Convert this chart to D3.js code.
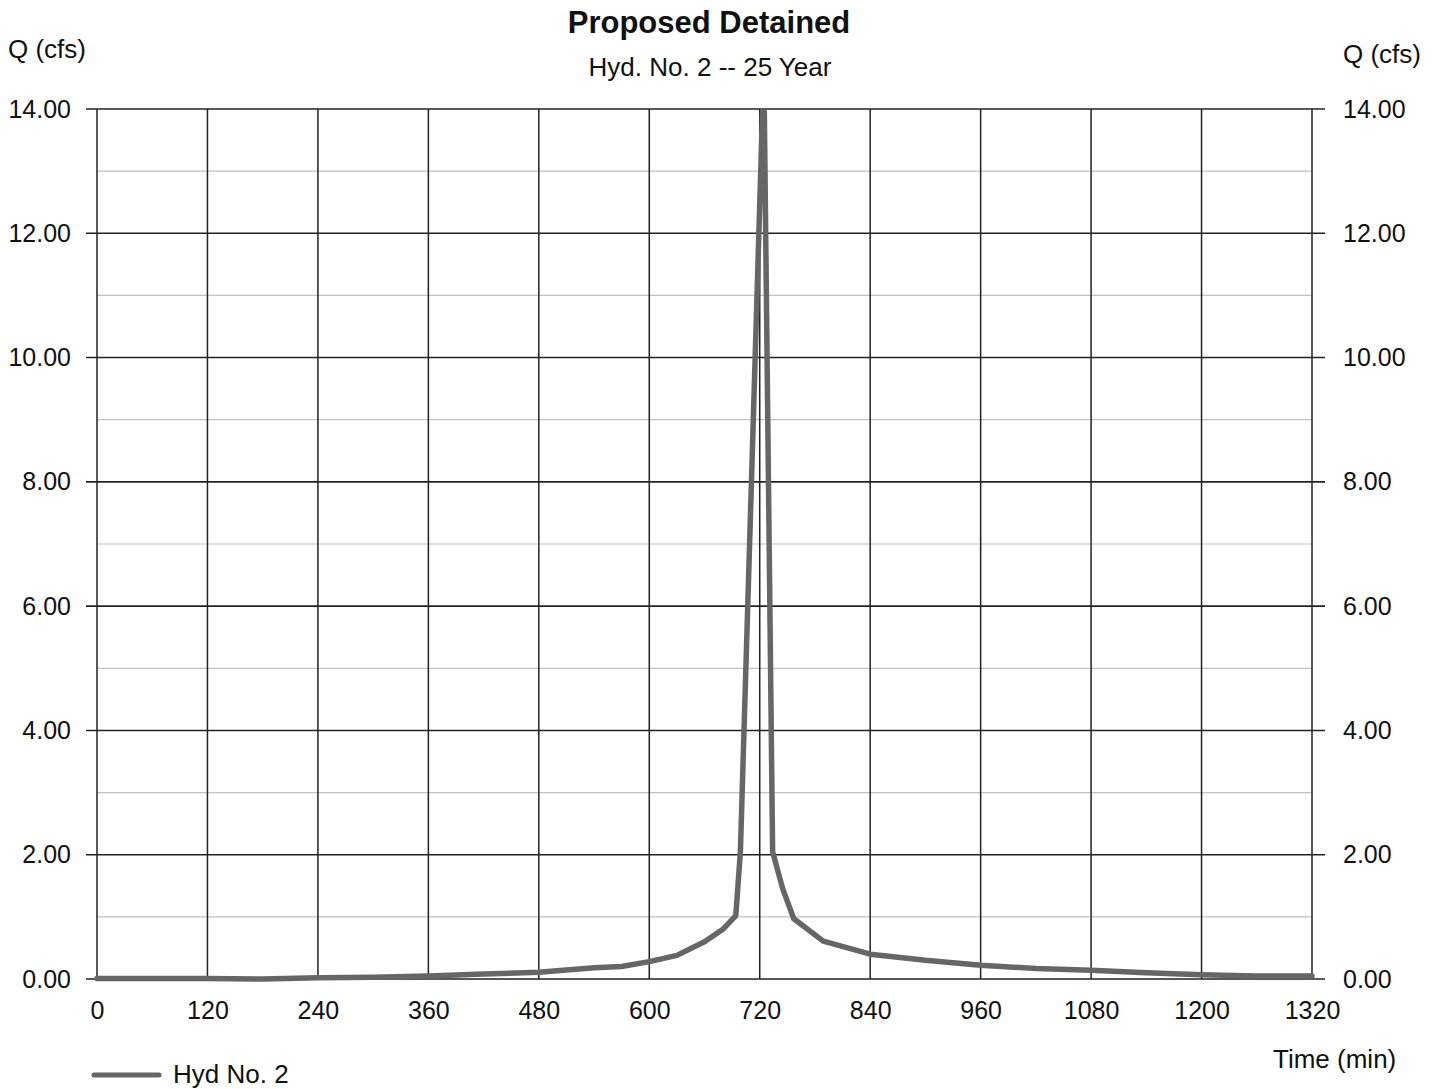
<!DOCTYPE html>
<html>
    <head>
        <title>Proposed Detained</title>
        <script src="https://d3js.org/d3.v7.min.js"></script>
        <style>
            * {
                margin: 0;
                padding: 0;
            }
            body {
                background: #fff;
                overflow: hidden;
            }
            svg {
                display: block;
                font-family: 'Liberation Sans', Arial, sans-serif;
            }
            .tick text {
                font-size: 25px;
                fill: #111;
            }
        </style>
    </head>
    <body>
        <script>
            // hydrograph (time in min, Q in cfs)
            const times = [0, 60, 120, 180, 240, 300, 360, 420, 480, 540, 570, 600, 630, 660, 680, 694, 699, 711, 723, 725, 734, 745, 757, 789, 840, 900, 960, 1020, 1080, 1140, 1200, 1260, 1320];
            const flows = [0.01, 0.01, 0.01, 0.0, 0.02, 0.03, 0.05, 0.08, 0.11, 0.18, 0.2, 0.28, 0.38, 0.6, 0.8, 1.02, 2.05, 8.0, 13.95, 13.95, 2.05, 1.45, 0.97, 0.61, 0.4, 0.3, 0.22, 0.17, 0.14, 0.1, 0.07, 0.05, 0.05];

            const xTicks = [0, 120, 240, 360, 480, 600, 720, 840, 960, 1080, 1200, 1320];
            const yTicks = [0, 2, 4, 6, 8, 10, 12, 14];
            const yMinor = [1, 3, 5, 7, 9, 11, 13];

            const width = 1440;
            const height = 1089;
            const plotLeft = 97, plotRight = 1312, plotTop = 109, plotBottom = 979;

            const svg = d3.select('body').append('svg').attr('width', width).attr('height', height);

            const x = d3.scaleLinear().domain([0, 1320]).range([plotLeft, plotRight]);
            const y = d3.scaleLinear().domain([0, 14]).range([plotBottom, plotTop]);

            // light minor grid
            svg.append('g')
                .selectAll('line')
                .data(yMinor)
                .join('line')
                .attr('x1', plotLeft)
                .attr('x2', plotRight)
                .attr('y1', (d) => y(d))
                .attr('y2', (d) => y(d))
                .attr('stroke', '#c2c2c2')
                .attr('stroke-width', 1.2);

            // vertical grid
            svg.append('g')
                .selectAll('line')
                .data(xTicks)
                .join('line')
                .attr('x1', (d) => x(d))
                .attr('x2', (d) => x(d))
                .attr('y1', y(0))
                .attr('y2', y(14))
                .attr('stroke', '#222')
                .attr('stroke-width', 1.5);

            // major horizontal grid, runs past the frame on both sides
            svg.append('g')
                .selectAll('line')
                .data(yTicks)
                .join('line')
                .attr('x1', plotLeft - 11)
                .attr('x2', plotRight + 13)
                .attr('y1', (d) => y(d))
                .attr('y2', (d) => y(d))
                .attr('stroke', '#222')
                .attr('stroke-width', 1.6);

            const line = d3
                .line()
                .x((d, i) => x(times[i]))
                .y((d) => y(d));

            svg.append('path')
                .datum(flows)
                .attr('d', line)
                .attr('fill', 'none')
                .attr('stroke', '#666')
                .attr('stroke-width', 5.5)
                .attr('stroke-linejoin', 'round')
                .attr('stroke-linecap', 'round');

            const fmt = d3.format('.2f');

            svg.append('g')
                .attr('transform', `translate(${plotLeft - 11},0)`)
                .call(d3.axisLeft(y).tickValues(yTicks).tickFormat(fmt).tickSize(0).tickPadding(15))
                .call((g) => g.select('.domain').remove());

            svg.append('g')
                .attr('transform', `translate(${plotRight + 13},0)`)
                .call(d3.axisRight(y).tickValues(yTicks).tickFormat(fmt).tickSize(0).tickPadding(18))
                .call((g) => g.select('.domain').remove());

            svg.append('g')
                .attr('transform', `translate(0,${plotBottom})`)
                .call(d3.axisBottom(x).tickValues(xTicks).tickFormat(d3.format('d')).tickSize(0).tickPadding(22))
                .call((g) => g.select('.domain').remove());

            svg.selectAll('g').attr('font-family', null).attr('font-size', null);

            svg.append('text')
                .attr('x', 709)
                .attr('y', 33)
                .attr('text-anchor', 'middle')
                .attr('font-size', 31)
                .attr('font-weight', 'bold')
                .attr('fill', '#111')
                .text('Proposed Detained');

            svg.append('text')
                .attr('x', 710)
                .attr('y', 76)
                .attr('text-anchor', 'middle')
                .attr('font-size', 26)
                .attr('fill', '#111')
                .text('Hyd. No. 2 -- 25 Year');

            svg.append('text').attr('x', 8).attr('y', 58).attr('font-size', 26).attr('fill', '#111').text('Q (cfs)');
            svg.append('text').attr('x', 1343).attr('y', 63).attr('font-size', 26).attr('fill', '#111').text('Q (cfs)');
            svg.append('text').attr('x', 1273).attr('y', 1068).attr('font-size', 26).attr('fill', '#111').text('Time (min)');

            // legend
            svg.append('line')
                .attr('x1', 94)
                .attr('x2', 159)
                .attr('y1', 1075)
                .attr('y2', 1075)
                .attr('stroke', '#666')
                .attr('stroke-width', 5)
                .attr('stroke-linecap', 'round');
            svg.append('text').attr('x', 173).attr('y', 1083).attr('font-size', 26).attr('fill', '#111').text('Hyd No. 2');
        </script>
    </body>
</html>
